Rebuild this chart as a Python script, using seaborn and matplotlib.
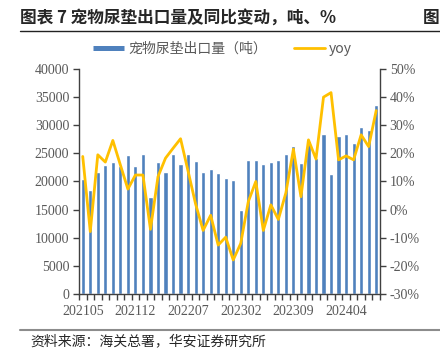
import numpy as np
import pandas as pd
import seaborn as sns
import matplotlib.pyplot as plt
from matplotlib.lines import Line2D

# monthly export volume (tons) and yoy change (%), 202105 - 202408
months = pd.period_range("2021-05", periods=40, freq="M").strftime("%Y%m").tolist()
volume = [20400, 18500, 21600, 23000, 23500, 22700, 24700, 22700, 24800, 17200,
          23500, 21700, 24900, 23100, 24800, 23600, 21700, 22300, 21500, 20600,
          20200, 15000, 23800, 23900, 23100, 23400, 23800, 24900, 26300, 23200,
          27200, 24100, 28400, 21300, 28100, 28500, 26900, 29600, 29100, 33600]
yoy = [18.9, -7.8, 19.5, 16.9, 24.6, 15.9, 7.3, 12.3, 12.3, -7.0,
       11.7, 18.3, 21.8, 25.2, 13.7, 2.0, -7.4, -2.0, -12.6, -9.8,
       -17.9, -12.0, 2.8, 10.0, -7.4, 1.7, -3.5, 6.0, 21.5, 4.6,
       24.8, 18.0, 40.0, 41.6, 17.7, 19.1, 17.7, 26.6, 22.4, 35.2]
shown_labels = ["202105", "202112", "202207", "202302", "202309", "202404"]
left_ticks = [0, 5000, 10000, 15000, 20000, 25000, 30000, 35000, 40000]
right_ticks = [-30, -20, -10, 0, 10, 20, 30, 40, 50]

BAR = "#4F81BD"
LINE = "#FFC000"
GRAY = "#595959"

sns.set_style("ticks")
plt.rcParams["font.family"] = ["Noto Sans CJK SC", "DejaVu Sans"]
plt.rcParams["axes.unicode_minus"] = False

df = pd.DataFrame({"month": months, "volume": volume, "yoy": yoy})
df["pos"] = np.arange(len(df))

fig = plt.figure(figsize=(4.4, 3.54), dpi=100)
ax = fig.add_axes([0.1795, 0.1695, 0.684, 0.6356])

sns.barplot(data=df, x="month", y="volume", color=BAR, saturation=1,
            width=0.55, ax=ax)
ax2 = ax.twinx()
sns.lineplot(data=df, x="pos", y="yoy", color=LINE, linewidth=2.0, ax=ax2)

ax.set_xlim(-0.5, len(df) - 0.5)
ax.set_ylim(0, 40000)
ax2.set_ylim(-30, 50)

tick_font = dict(family="Liberation Serif", size=10, color=GRAY)

# x: tick marks between categories, labels every 7 months
ax.set_xticks(np.arange(-0.5, len(df), 1))
ax.set_xticklabels([])
label_pos = [months.index(m) for m in shown_labels]
ax.set_xticks(label_pos, minor=True)
ax.set_xticklabels(shown_labels, minor=True, fontdict=tick_font)
ax.tick_params(axis="x", which="major", length=4, width=1, color="#404040", direction="out")
ax.tick_params(axis="x", which="minor", length=0, pad=8)

ax.set_yticks(left_ticks)
ax.set_yticklabels([str(v) for v in left_ticks], fontdict=tick_font)
ax.tick_params(axis="y", length=4, width=1, color="#404040", direction="out", pad=3)

ax2.set_yticks(right_ticks)
ax2.set_yticklabels([f"{v}%" for v in right_ticks], fontdict=tick_font)
ax2.tick_params(axis="y", length=4, width=1, color="#404040", direction="out", pad=3)

ax.set_xlabel("")
ax.set_ylabel("")
ax2.set_xlabel("")
ax2.set_ylabel("")

for a in (ax, ax2):
    a.spines["top"].set_visible(False)
    for s in ("left", "right", "bottom"):
        a.spines[s].set_color("#404040")
        a.spines[s].set_linewidth(1)
ax.spines["right"].set_visible(False)
ax2.spines["left"].set_visible(False)
ax2.spines["bottom"].set_visible(False)

handles = [Line2D([], [], color=BAR, linewidth=3.6, solid_capstyle="butt"),
           Line2D([], [], color=LINE, linewidth=2.0)]
leg = fig.legend(handles, ["宠物尿垫出口量（吨）", "yoy"], loc="center",
                 bbox_to_anchor=(0.506, 0.862), ncol=2, frameon=False,
                 handlelength=2.2, handletextpad=0.3, columnspacing=2.0,
                 prop={"family": ["Noto Sans CJK SC", "DejaVu Sans"], "size": 10})
for t in leg.get_texts():
    t.set_color(GRAY)

# header and footer
fig.text(20 / 440, 1 - 18 / 354, "图表 7 宠物尿垫出口量及同比变动，吨、%",
         fontsize=12, fontweight="bold", va="center", ha="left")
fig.text(423 / 440, 1 - 18 / 354, "图", fontsize=12, fontweight="bold",
         va="center", ha="left")
fig.add_artist(Line2D([20 / 440, 1], [1 - 31 / 354, 1 - 31 / 354],
                      color="#222222", linewidth=1.0))
fig.add_artist(Line2D([20 / 440, 1], [1 - 330 / 354, 1 - 330 / 354],
                      color="#8C8C8C", linewidth=1.5))
fig.text(30 / 440, 1 - 341 / 354, "资料来源：海关总署，华安证券研究所",
         fontsize=10, va="center", ha="left")

fig.savefig("out.png", dpi=100)
